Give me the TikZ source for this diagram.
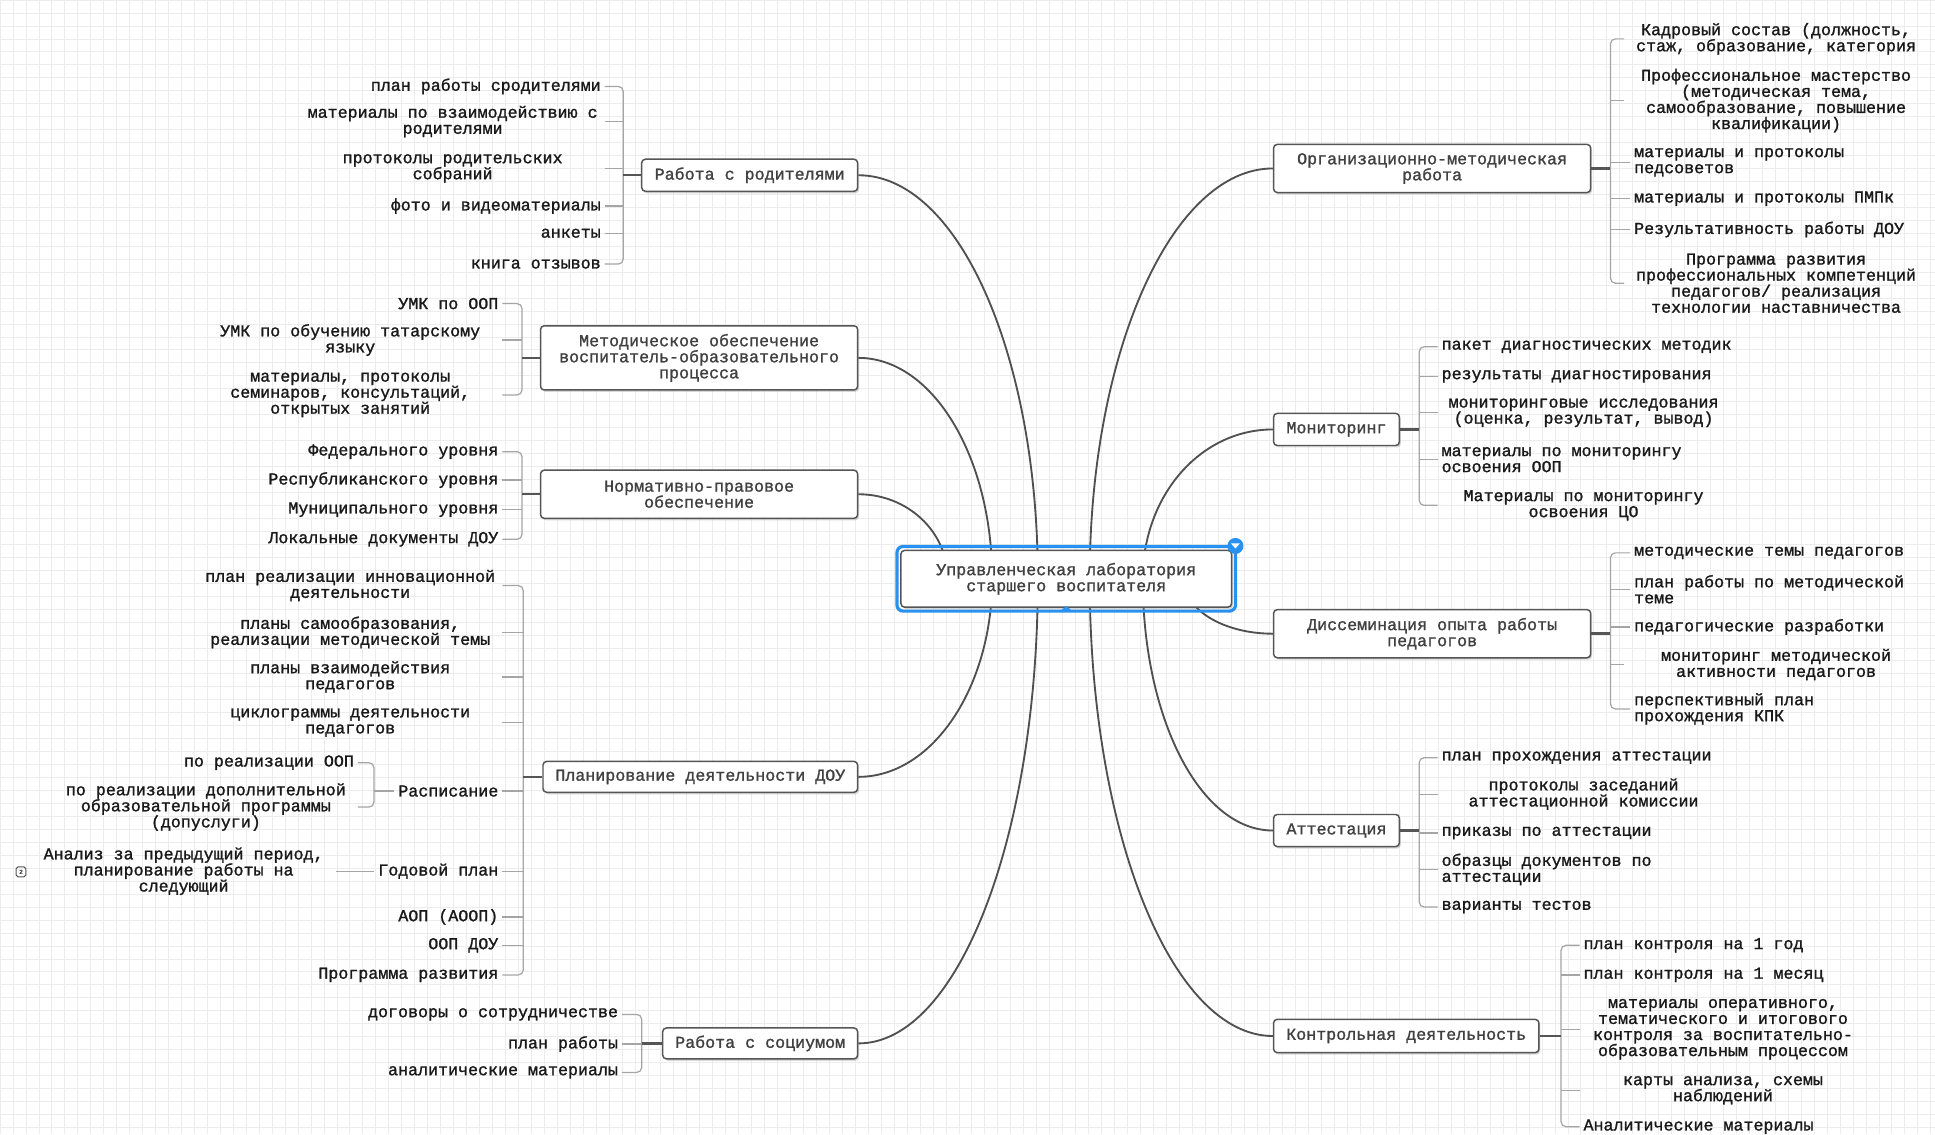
\documentclass[tikz,border=0pt]{standalone}
\usepackage{fontspec}
\setmainfont{Liberation Mono}[FakeBold=1.3]
\usetikzlibrary{calc, shadows}

\definecolor{gridcol}{RGB}{236,236,236}
\definecolor{boxline}{RGB}{85,85,85}
\definecolor{boxtext}{RGB}{65,65,65}
\definecolor{twigtext}{RGB}{25,25,25}
\definecolor{limbcol}{RGB}{80,80,80}
\definecolor{spinecol}{RGB}{165,165,165}
\definecolor{selblue}{RGB}{41,145,240}

\newcommand\mapfont{\fontsize{13.5}{13}\selectfont}

\begin{document}
\begin{tikzpicture}[x=1pt, y=-1pt,
    font=\mapfont,
    topic/.style={draw=boxline, line width=1.2pt, rounded corners=3pt, fill=white, text=boxtext,
        align=center, inner sep=0pt, drop shadow={shadow xshift=1.2pt, shadow yshift=-1.6pt, opacity=0.3}},
    twig/.style={text=twigtext, inner xsep=3pt, inner ysep=1pt},
    wrapc/.style={twig, align=center, minimum width=246pt},
    wrapl/.style={twig, align=left},
    limb/.style={draw=limbcol, line width=1.5pt},
    fork/.style={draw=spinecol, line width=1pt, rounded corners=4pt},
    stalk/.style={draw=boxline, line width=2pt}]

    \useasboundingbox (0,0) rectangle (1568,919);
    \fill [white] (0,0) rectangle (1568,919);
    \draw [gridcol, line width=0.6pt, step=10.5pt] (0,919) grid (1568,0);

    % main topics, left
    \node [topic, minimum width=175pt, minimum height=26pt] (rodit) at (607.5,142) {Работа с родителями};
    \node [topic, minimum width=257pt, minimum height=52pt] (metod) at (566.5,290)
        {Методическое обеспечение\\воспитатель-образовательного\\процесса};
    \node [topic, minimum width=257pt, minimum height=39pt] (norm) at (566.5,400.5) {Нормативно-правовое\\обеспечение};
    \node [topic, minimum width=255pt, minimum height=25pt] (plan) at (567.5,629.5) {Планирование деятельности ДОУ};
    \node [topic, minimum width=158pt, minimum height=25pt] (socium) at (616,845.5) {Работа с социумом};

    % main topics, right
    \node [topic, minimum width=257pt, minimum height=39pt] (orgmet) at (1160.5,136.5) {Организационно-методическая\\работа};
    \node [topic, minimum width=102pt, minimum height=26pt] (monit) at (1083,348) {Мониторинг};
    \node [topic, minimum width=257pt, minimum height=39pt] (dissem) at (1160.5,513.5) {Диссеминация опыта работы\\педагогов};
    \node [topic, minimum width=102pt, minimum height=26pt] (attest) at (1083,673) {Аттестация};
    \node [topic, minimum width=215pt, minimum height=27pt] (kontrol) at (1139.5,839.5) {Контрольная деятельность};

    % Работа с родителями
    \coordinate (sp-rodit) at (505,0);
    \node [twig, anchor=east] (r1) at (490,70) {план работы сродителями};
    \node [wrapc, anchor=east] (r2) at (490,98.5) {материалы по взаимодействию с\\родителями};
    \node [wrapc, anchor=east] (r3) at (490,136.5) {протоколы родительских\\собраний};
    \node [twig, anchor=east] (r4) at (490,167) {фото и видеоматериалы};
    \node [twig, anchor=east] (r5) at (490,189) {анкеты};
    \node [twig, anchor=east] (r6) at (490,214) {книга отзывов};
    \draw [fork] (r1.east) -| (sp-rodit |- r6.east) -- (r6.east);
    \draw [fork] (r2.east) -- (r2.east -| sp-rodit);
    \draw [fork] (r3.east) -- (r3.east -| sp-rodit);
    \draw [fork] (r4.east) -- (r4.east -| sp-rodit);
    \draw [fork] (r5.east) -- (r5.east -| sp-rodit);
    \draw [stalk] (rodit.west) -- (rodit.west -| sp-rodit);

    % Методическое обеспечение
    \coordinate (sp-metod) at (423,0);
    \node [twig, anchor=east] (m1) at (407,246) {УМК по ООП};
    \node [wrapc, anchor=east] (m2) at (407,275.5) {УМК по обучению татарскому\\языку};
    \node [wrapc, anchor=east] (m3) at (407,320) {материалы, протоколы\\семинаров, консультаций,\\открытых занятий};
    \draw [fork] (m1.east) -| (sp-metod |- m3.east) -- (m3.east);
    \draw [fork] (m2.east) -- (m2.east -| sp-metod);
    \draw [stalk] (metod.west) -- (metod.west -| sp-metod);

    % Нормативно-правовое обеспечение
    \coordinate (sp-norm) at (423,0);
    \node [twig, anchor=east] (n1) at (407,366) {Федерального уровня};
    \node [twig, anchor=east] (n2) at (407,389) {Республиканского уровня};
    \node [twig, anchor=east] (n3) at (407,413) {Муниципального уровня};
    \node [twig, anchor=east] (n4) at (407,437) {Локальные документы ДОУ};
    \draw [fork] (n1.east) -| (sp-norm |- n4.east) -- (n4.east);
    \draw [fork] (n2.east) -- (n2.east -| sp-norm);
    \draw [fork] (n3.east) -- (n3.east -| sp-norm);
    \draw [stalk] (norm.west) -- (norm.west -| sp-norm);

    % Планирование деятельности ДОУ
    \coordinate (sp-plan) at (424,0);
    \node [wrapc, anchor=east] (p1) at (407,474.5) {план реализации инновационной\\деятельности};
    \node [wrapc, anchor=east] (p2) at (407,512.5) {планы самообразования,\\реализации методической темы};
    \node [wrapc, anchor=east] (p3) at (407,548.5) {планы взаимодействия\\педагогов};
    \node [wrapc, anchor=east] (p4) at (407,585.5) {циклограммы деятельности\\педагогов};
    \node [twig, anchor=east] (p5) at (407,641) {Расписание};
    \node [twig, anchor=east] (p6) at (407,706) {Годовой план};
    \node [twig, anchor=east] (p7) at (407,743) {АОП (АООП)};
    \node [twig, anchor=east] (p8) at (407,766) {ООП ДОУ};
    \node [twig, anchor=east] (p9) at (407,790) {Программа развития};
    \draw [fork] (p1.east) -| (sp-plan |- p9.east) -- (p9.east);
    \draw [fork] (p2.east) -- (p2.east -| sp-plan);
    \draw [fork] (p3.east) -- (p3.east -| sp-plan);
    \draw [fork] (p4.east) -- (p4.east -| sp-plan);
    \draw [fork] (p5.east) -- (p5.east -| sp-plan);
    \draw [fork] (p6.east) -- (p6.east -| sp-plan);
    \draw [fork] (p7.east) -- (p7.east -| sp-plan);
    \draw [fork] (p8.east) -- (p8.east -| sp-plan);
    \draw [stalk] (plan.west) -- (plan.west -| sp-plan);

    % Расписание
    \coordinate (sp-rasp) at (303,0);
    \node [twig, anchor=east] (s1) at (290,618) {по реализации ООП};
    \node [wrapc, anchor=east] (s2) at (290,654) {по реализации дополнительной\\образовательной программы\\(допуслуги)};
    \draw [fork] (s1.east) -| (sp-rasp |- s2.east) -- (s2.east);
    \draw [fork] (p5.west) -- (p5.west -| sp-rasp);

    % Годовой план
    \node [wrapc, anchor=east] (g1) at (272,706) {Анализ за предыдущий период,\\планирование работы на\\следующий};
    \draw [fork] (g1.east) -- (p6.west);
    \node [draw=boxline, line width=0.8pt, rounded corners=1.5pt, minimum width=8pt, minimum height=8pt,
        inner sep=0pt, font=\fontsize{5}{5}\selectfont, text=boxtext] (g1-more) at (17,706.5) {2};

    % Работа с социумом
    \coordinate (sp-socium) at (520,0);
    \node [twig, anchor=east] (c1) at (504,822) {договоры о сотрудничестве};
    \node [twig, anchor=east] (c2) at (504,846) {план работы};
    \node [twig, anchor=east] (c3) at (504,869) {аналитические материалы};
    \draw [fork] (c1.east) -| (sp-socium |- c3.east) -- (c3.east);
    \draw [fork] (c2.east) -- (c2.east -| sp-socium);
    \draw [stalk] (socium.west) -- (socium.west -| sp-socium);

    % Организационно-методическая работа
    \coordinate (sp-orgmet) at (1305,0);
    \node [wrapc, anchor=west] (o1) at (1316,31.5) {Кадровый состав (должность,\\стаж, образование, категория};
    \node [wrapc, anchor=west] (o2) at (1316,81.5) {Профессиональное мастерство\\(методическая тема,\\самообразование, повышение\\квалификации)};
    \node [wrapl, anchor=west] (o3) at (1321,131.5) {материалы и протоколы\\педсоветов};
    \node [twig, anchor=west] (o4) at (1321,161) {материалы и протоколы ПМПк};
    \node [twig, anchor=west] (o5) at (1321,186) {Результативность работы ДОУ};
    \node [wrapc, anchor=west] (o6) at (1316,229.5) {Программа развития\\профессиональных компетенций\\педагогов/ реализация\\технологии наставничества};
    \draw [fork] (o1.west) -| (sp-orgmet |- o6.west) -- (o6.west);
    \draw [fork] (o2.west) -- (o2.west -| sp-orgmet);
    \draw [fork] (o3.west) -- (o3.west -| sp-orgmet);
    \draw [fork] (o4.west) -- (o4.west -| sp-orgmet);
    \draw [fork] (o5.west) -- (o5.west -| sp-orgmet);
    \draw [stalk] (orgmet.east) -- (orgmet.east -| sp-orgmet);

    % Мониторинг
    \coordinate (sp-monit) at (1150,0);
    \node [twig, anchor=west] (q1) at (1165,281) {пакет диагностических методик};
    \node [twig, anchor=west] (q2) at (1165,305) {результаты диагностирования};
    \node [wrapc, anchor=west, minimum width=236pt] (q3) at (1165,334.5) {мониторинговые исследования\\(оценка, результат, вывод)};
    \node [wrapl, anchor=west] (q4) at (1165,372.5) {материалы по мониторингу\\освоения ООП};
    \node [wrapc, anchor=west, minimum width=236pt] (q5) at (1165,409.5) {Материалы по мониторингу\\освоения ЦО};
    \draw [fork] (q1.west) -| (sp-monit |- q5.west) -- (q5.west);
    \draw [fork] (q2.west) -- (q2.west -| sp-monit);
    \draw [fork] (q3.west) -- (q3.west -| sp-monit);
    \draw [fork] (q4.west) -- (q4.west -| sp-monit);
    \draw [stalk] (monit.east) -- (monit.east -| sp-monit);

    % Диссеминация опыта работы педагогов
    \coordinate (sp-dissem) at (1305,0);
    \node [twig, anchor=west] (d1) at (1321,448) {методические темы педагогов};
    \node [wrapl, anchor=west] (d2) at (1321,477.5) {план работы по методической\\теме};
    \node [twig, anchor=west] (d3) at (1321,508) {педагогические разработки};
    \node [wrapc, anchor=west] (d4) at (1316,538.5) {мониторинг методической\\активности педагогов};
    \node [wrapl, anchor=west] (d5) at (1321,574.5) {перспективный план\\прохождения КПК};
    \draw [fork] (d1.west) -| (sp-dissem |- d5.west) -- (d5.west);
    \draw [fork] (d2.west) -- (d2.west -| sp-dissem);
    \draw [fork] (d3.west) -- (d3.west -| sp-dissem);
    \draw [fork] (d4.west) -- (d4.west -| sp-dissem);
    \draw [stalk] (dissem.east) -- (dissem.east -| sp-dissem);

    % Аттестация
    \coordinate (sp-attest) at (1150,0);
    \node [twig, anchor=west] (a1) at (1165,614) {план прохождения аттестации};
    \node [wrapc, anchor=west, minimum width=236pt] (a2) at (1165,643.5) {протоколы заседаний\\аттестационной комиссии};
    \node [twig, anchor=west] (a3) at (1165,675) {приказы по аттестации};
    \node [wrapl, anchor=west] (a4) at (1165,704.5) {образцы документов по\\аттестации};
    \node [twig, anchor=west] (a5) at (1165,735) {варианты тестов};
    \draw [fork] (a1.west) -| (sp-attest |- a5.west) -- (a5.west);
    \draw [fork] (a2.west) -- (a2.west -| sp-attest);
    \draw [fork] (a3.west) -- (a3.west -| sp-attest);
    \draw [fork] (a4.west) -- (a4.west -| sp-attest);
    \draw [stalk] (attest.east) -- (attest.east -| sp-attest);

    % Контрольная деятельность
    \coordinate (sp-kontrol) at (1265,0);
    \node [twig, anchor=west] (k1) at (1280,766) {план контроля на 1 год};
    \node [twig, anchor=west] (k2) at (1280,790) {план контроля на 1 месяц};
    \node [wrapc, anchor=west, minimum width=232pt] (k3) at (1280,834) {материалы оперативного,\\тематического и итогового\\контроля за воспитательно-\\образовательным процессом};
    \node [wrapc, anchor=west, minimum width=232pt] (k4) at (1280,883.5) {карты анализа, схемы\\наблюдений};
    \node [twig, anchor=west] (k5) at (1280,913) {Аналитические материалы};
    \draw [fork] (k1.west) -| (sp-kontrol |- k5.west) -- (k5.west);
    \draw [fork] (k2.west) -- (k2.west -| sp-kontrol);
    \draw [fork] (k3.west) -- (k3.west -| sp-kontrol);
    \draw [fork] (k4.west) -- (k4.west -| sp-kontrol);
    \draw [stalk] (kontrol.east) -- (kontrol.east -| sp-kontrol);

    % curves from the central topic
    \coordinate (in-rodit) at (841,469);
    \coordinate (in-metod) at (804,469);
    \coordinate (in-norm) at (768,469);
    \coordinate (in-plan) at (804,469);
    \coordinate (in-socium) at (841,469);
    \coordinate (in-orgmet) at (883,469);
    \coordinate (in-monit) at (926,469);
    \coordinate (in-dissem) at (959,469);
    \coordinate (in-attest) at (926,469);
    \coordinate (in-kontrol) at (883,469);
    \draw [limb] (rodit.east) .. controls +(81,0) and +(0,-181) .. (in-rodit);
    \draw [limb] (metod.east) .. controls +(60,0) and +(0,-99) .. (in-metod);
    \draw [limb] (norm.east) .. controls +(40,0) and +(0,-38) .. (in-norm);
    \draw [limb] (plan.east) .. controls +(60,0) and +(0,88) .. (in-plan);
    \draw [limb] (socium.east) .. controls +(81,0) and +(0,208) .. (in-socium);
    \draw [limb] (orgmet.west) .. controls +(-82,0) and +(0,-183) .. (in-orgmet);
    \draw [limb] (monit.west) .. controls +(-59,0) and +(0,-67) .. (in-monit);
    \draw [limb] (dissem.west) .. controls +(-40,0) and +(0,25) .. (in-dissem);
    \draw [limb] (attest.west) .. controls +(-59,0) and +(0,113) .. (in-attest);
    \draw [limb] (kontrol.west) .. controls +(-82,0) and +(0,205) .. (in-kontrol);

    % central topic
    \node [topic, minimum width=268pt, minimum height=46pt] (lab) at (864,469)
        {Управленческая лаборатория\\старшего воспитателя};
    \draw [selblue, line width=2.6pt, rounded corners=5pt]
        ([shift={(-2.6,2.6)}]lab.south west) rectangle ([shift={(2.6,-2.6)}]lab.north east);
    \fill [selblue] ([shift={(-5,2.6)}]lab.south) -- ([shift={(0,-1.5)}]lab.south) -- ([shift={(5,2.6)}]lab.south) -- cycle;
    \fill [selblue] ([shift={(2.5,-3)}]lab.north east) circle (6.5);
    \fill [white] ([shift={(-1,-5)}]lab.north east) -- ([shift={(6,-5)}]lab.north east) -- ([shift={(2.5,-1)}]lab.north east) -- cycle;
\end{tikzpicture}
\end{document}
